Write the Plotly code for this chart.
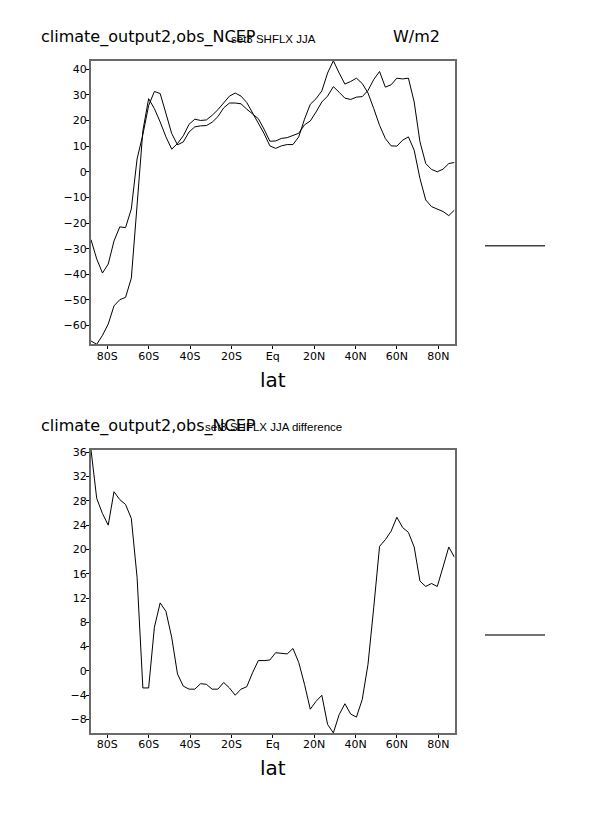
import plotly.graph_objects as go

# ---------------- data ----------------
lat = [-87.86, -85.10, -82.31, -79.53, -76.74, -73.95, -71.16, -68.37, -65.58, -62.79,
       -60.00, -57.21, -54.42, -51.63, -48.84, -46.05, -43.26, -40.46, -37.67, -34.88,
       -32.09, -29.30, -26.51, -23.72, -20.93, -18.14, -15.35, -12.56, -9.77, -6.98,
       -4.19, -1.40, 1.40, 4.19, 6.98, 9.77, 12.56, 15.35, 18.14, 20.93,
       23.72, 26.51, 29.30, 32.09, 34.88, 37.67, 40.46, 43.26, 46.05, 48.84,
       51.63, 54.42, 57.21, 60.00, 62.79, 65.58, 68.37, 71.16, 73.95, 76.74,
       79.53, 82.31, 85.10, 87.86]

model_shflx = [-26.5, -34.0, -39.5, -36.0, -27.0, -21.5, -21.8, -14.5, 5.0, 14.5,
               25.8, 31.3, 30.5, 22.8, 14.9, 10.5, 11.6, 15.5, 17.5, 17.9,
               18.0, 19.3, 21.5, 24.9, 26.8, 26.8, 26.5, 24.4, 22.7, 20.7,
               16.6, 11.9, 12.0, 13.0, 13.3, 14.1, 15.0, 18.3, 19.8, 23.3,
               27.2, 29.5, 33.2, 31.0, 28.7, 28.2, 29.1, 29.3, 31.7, 36.0,
               39.1, 33.0, 33.9, 36.5, 36.2, 36.5, 27.2, 11.7, 3.2, 0.9,
               0.0, 1.0, 3.2, 3.6]

obs_shflx = [-66.0, -67.3, -63.8, -59.4, -52.3, -49.9, -49.0, -41.5, -13.0, 16.0,
             28.5, 24.6, 19.4, 13.6, 8.8, 11.0, 14.0, 18.5, 20.5, 20.0,
             20.2, 22.0, 24.2, 26.8, 29.5, 30.7, 29.5, 27.0, 23.0, 19.4,
             14.9, 10.1, 9.1, 10.1, 10.6, 10.6, 13.6, 20.5, 26.3, 28.5,
             31.5, 38.5, 43.3, 38.5, 34.2, 35.2, 36.5, 34.4, 30.7, 24.6,
             18.1, 13.0, 10.1, 10.0, 12.3, 13.6, 8.4, -2.6, -11.0, -13.6,
             -14.5, -15.5, -17.1, -14.9]

diff_shflx = [36.4, 28.4, 25.9, 24.0, 29.5, 28.2, 27.4, 25.1, 15.4, -2.8,
              -2.8, 7.2, 11.2, 9.8, 5.5, -0.5, -2.5, -3.0, -3.0, -2.1,
              -2.2, -3.0, -3.0, -1.9, -2.8, -4.0, -3.0, -2.6, -0.3, 1.7,
              1.7, 1.8, 3.0, 2.9, 2.8, 3.7, 1.4, -2.2, -6.3, -5.0,
              -4.0, -8.8, -10.2, -7.2, -5.4, -7.1, -7.6, -4.7, 1.1, 10.5,
              20.5, 21.6, 23.0, 25.3, 23.6, 22.8, 20.4, 14.8, 13.9, 14.4,
              13.9, 17.1, 20.4, 18.7]

lat_tickvals = [-80, -60, -40, -20, 0, 20, 40, 60, 80]
lat_ticktext = ["80S", "60S", "40S", "20S", "Eq", "20N", "40N", "60N", "80N"]
top_yticks = [-60, -50, -40, -30, -20, -10, 0, 10, 20, 30, 40]
bot_yticks = [-8, -4, 0, 4, 8, 12, 16, 20, 24, 28, 32, 36]

# ---------------- figure ----------------
W, H = 606, 814
fig = go.Figure()

line_style = dict(color="black", width=1)
fig.add_trace(go.Scatter(x=lat, y=model_shflx, mode="lines", line=line_style,
                         xaxis="x", yaxis="y", showlegend=False))
fig.add_trace(go.Scatter(x=lat, y=obs_shflx, mode="lines", line=line_style,
                         xaxis="x", yaxis="y", showlegend=False))
fig.add_trace(go.Scatter(x=lat, y=diff_shflx, mode="lines", line=line_style,
                         xaxis="x2", yaxis="y2", showlegend=False))

def px_x(v):
    return v / W

def px_y(v):
    return 1 - v / H

tick_font = dict(family="DejaVu Sans", size=11, color="black")
frame = dict(showline=True, linecolor="#6a6a6a", linewidth=2, mirror=True,
             showgrid=False, zeroline=False, ticks="outside", ticklen=3,
             tickcolor="black", tickwidth=1, tickfont=tick_font)
xframe = dict(frame, ticklabelstandoff=-3)
yframe = dict(frame, ticklabelstandoff=-3)

top_all = model_shflx + obs_shflx
xr = [min(lat), max(lat)]

fig.update_layout(
    width=W, height=H,
    margin=dict(l=0, r=0, t=0, b=0),
    paper_bgcolor="white", plot_bgcolor="white",
    xaxis=dict(domain=[px_x(91), px_x(454.5)], anchor="y", range=xr,
               tickmode="array", tickvals=lat_tickvals, ticktext=lat_ticktext, **xframe),
    yaxis=dict(domain=[px_y(342), px_y(57)], anchor="x",
               range=[min(top_all), max(top_all)],
               tickmode="array", tickvals=top_yticks, **yframe),
    xaxis2=dict(domain=[px_x(91), px_x(454.5)], anchor="y2", range=xr,
                tickmode="array", tickvals=lat_tickvals, ticktext=lat_ticktext, **xframe),
    yaxis2=dict(domain=[px_y(732.5), px_y(448)], anchor="x2",
                range=[min(diff_shflx), max(diff_shflx)],
                tickmode="array", tickvals=bot_yticks, **yframe),
)

title_font = dict(family="DejaVu Sans", size=16, color="black")
small_font = dict(family="Liberation Sans", size=11.5, color="black")
lat_font = dict(family="DejaVu Sans", size=20, color="black")

annots = [
    dict(text="climate_output2,obs_NCEP", x=px_x(39), y=px_y(33), xanchor="left", font=title_font),
    dict(text="set3 SHFLX JJA", x=px_x(273), y=px_y(35), xanchor="center", font=small_font),
    dict(text="W/m2", x=px_x(417), y=px_y(33), xanchor="center", font=title_font),
    dict(text="lat", x=px_x(273), y=px_y(378), xanchor="center", font=lat_font),
    dict(text="climate_output2,obs_NCEP", x=px_x(39), y=px_y(424), xanchor="left", font=title_font),
    dict(text="set3 SHFLX JJA difference", x=px_x(273), y=px_y(425), xanchor="center", font=small_font),
    dict(text="lat", x=px_x(273), y=px_y(768), xanchor="center", font=lat_font),
]
for a in annots:
    fig.add_annotation(xref="paper", yref="paper", yanchor="middle", showarrow=False, **a)

for yy in (243, 634):
    fig.add_shape(type="line", xref="paper", yref="paper",
                  x0=px_x(485), x1=px_x(545), y0=px_y(yy), y1=px_y(yy),
                  line=dict(color="#444444", width=1.5))

fig.write_html(
    "out.html",
    config={"displayModeBar": False},
    post_script="document.body.style.margin='0';document.body.style.padding='0';"
                "document.documentElement.style.overflow='hidden';",
)
